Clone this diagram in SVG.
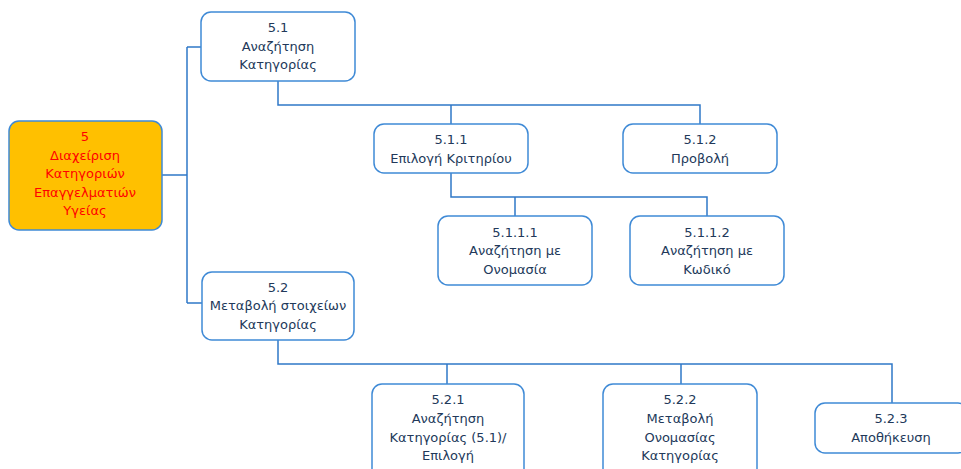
<svg xmlns="http://www.w3.org/2000/svg" width="961" height="469" viewBox="0 0 961 469">
<style>
.box{fill:#ffffff;stroke:#3f8ad6;stroke-width:1.5}
.root{fill:#ffc000;stroke:#3f8ad6;stroke-width:1.5}
.t{font-family:"DejaVu Sans",sans-serif;font-size:13px;fill:#22395a;text-anchor:middle}
.r{font-family:"DejaVu Sans",sans-serif;font-size:13px;fill:#ff0000;text-anchor:middle}
.c{fill:none;stroke:#2f78c8;stroke-width:1.5}
</style>
<rect width="961" height="469" fill="#ffffff"/>
<g id="connectors">
<path class="c" d="M162,175 H187 M187,47 V303 M187,47 H201 M187,303 H202"/>
<path class="c" d="M278,81 V105 H700 V124 M451,105 V124"/>
<path class="c" d="M451,173 V197 H707 V216 M515,197 V216"/>
<path class="c" d="M278,340 V364 H892 V403 M447,364 V384 M681,364 V384"/>
</g>
<g id="n5">
<rect class="root" x="9" y="121" width="153" height="109" rx="10"/>
<text class="r" x="85" y="141">5</text>
<text class="r" x="85" y="159.5">Διαχείριση</text>
<text class="r" x="85" y="178">Κατηγοριών</text>
<text class="r" x="85" y="196.5">Επαγγελματιών</text>
<text class="r" x="85" y="215">Υγείας</text>
</g>
<g id="n51">
<rect class="box" x="201" y="12" width="154" height="69" rx="10"/>
<text class="t" x="278" y="32">5.1</text>
<text class="t" x="278" y="50.5">Αναζήτηση</text>
<text class="t" x="278" y="69">Κατηγορίας</text>
</g>
<g id="n511">
<rect class="box" x="374" y="124" width="154" height="49" rx="10"/>
<text class="t" x="451" y="144">5.1.1</text>
<text class="t" x="451" y="162.5">Επιλογή Κριτηρίου</text>
</g>
<g id="n512">
<rect class="box" x="623" y="124" width="154" height="49" rx="10"/>
<text class="t" x="700" y="144">5.1.2</text>
<text class="t" x="700" y="162.5">Προβολή</text>
</g>
<g id="n5111">
<rect class="box" x="438" y="216" width="154" height="69" rx="10"/>
<text class="t" x="515" y="236.5">5.1.1.1</text>
<text class="t" x="515" y="255">Αναζήτηση με</text>
<text class="t" x="515" y="273.5">Ονομασία</text>
</g>
<g id="n5112">
<rect class="box" x="630" y="216" width="154" height="69" rx="10"/>
<text class="t" x="707" y="236.5">5.1.1.2</text>
<text class="t" x="707" y="255">Αναζήτηση με</text>
<text class="t" x="707" y="273.5">Κωδικό</text>
</g>
<g id="n52">
<rect class="box" x="202" y="272" width="152" height="68" rx="10"/>
<text class="t" x="278" y="291.5">5.2</text>
<text class="t" x="278" y="310">Μεταβολή στοιχείων</text>
<text class="t" x="278" y="328.5">Κατηγορίας</text>
</g>
<g id="n521">
<rect class="box" x="372" y="384" width="152" height="100" rx="10"/>
<text class="t" x="448" y="404">5.2.1</text>
<text class="t" x="448" y="423">Αναζήτηση</text>
<text class="t" x="448" y="441.5">Κατηγορίας (5.1)/</text>
<text class="t" x="448" y="460">Επιλογή</text>
</g>
<g id="n522">
<rect class="box" x="603" y="384" width="154" height="100" rx="10"/>
<text class="t" x="680" y="404">5.2.2</text>
<text class="t" x="680" y="423">Μεταβολή</text>
<text class="t" x="680" y="441.5">Ονομασίας</text>
<text class="t" x="680" y="460">Κατηγορίας</text>
</g>
<g id="n523">
<rect class="box" x="815" y="403" width="153" height="50" rx="10"/>
<text class="t" x="891" y="423">5.2.3</text>
<text class="t" x="891" y="442">Αποθήκευση</text>
</g>
</svg>
